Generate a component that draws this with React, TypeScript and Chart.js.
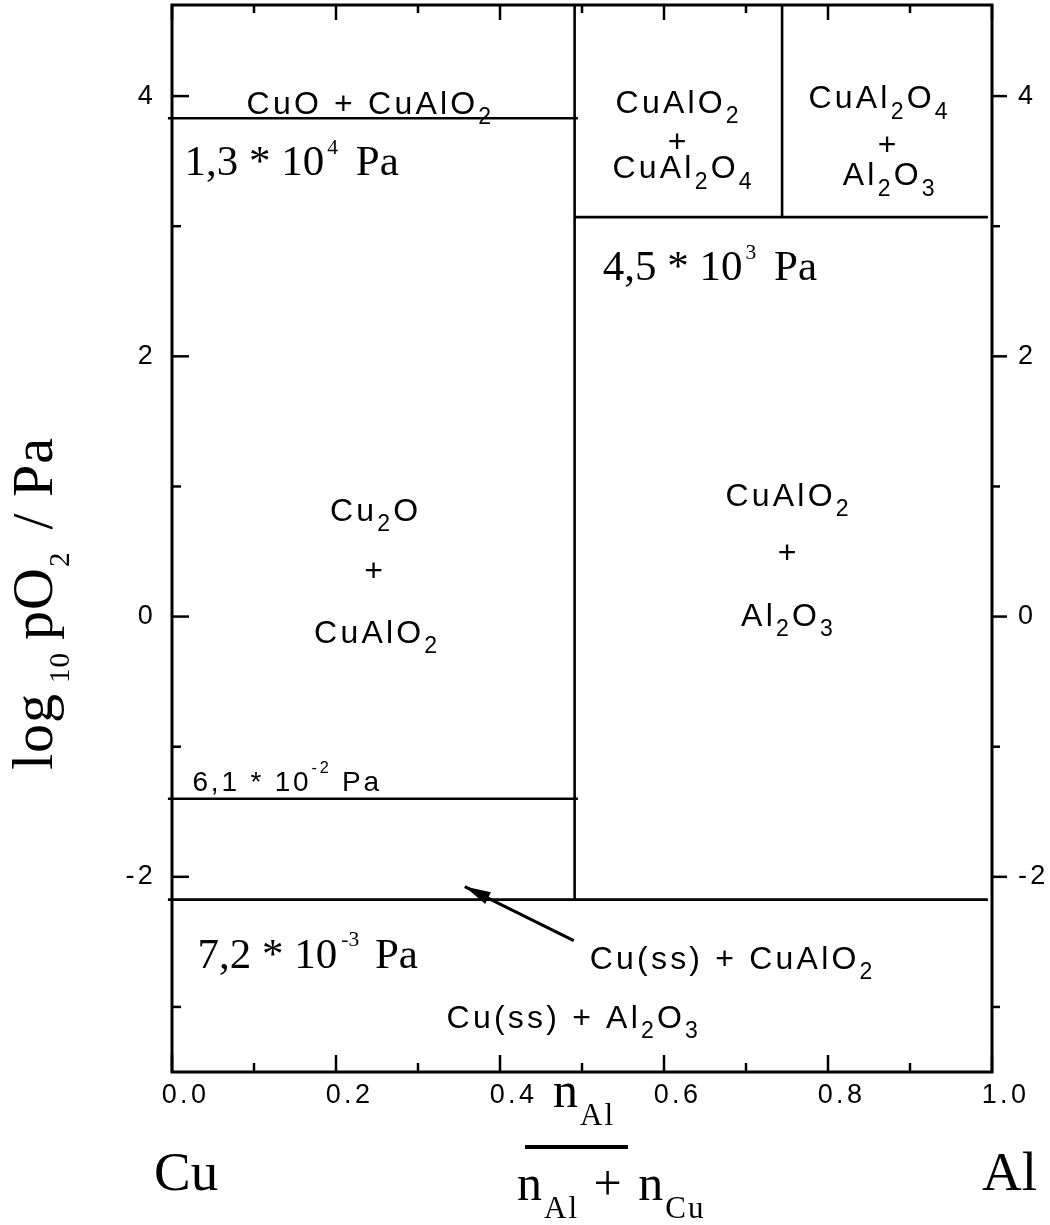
import React, { useEffect, useRef } from 'react';
import { Chart, registerables } from 'chart.js';

Chart.register(...registerables);

// ---- Axes ----
const xRange = [0, 1];
const yRange = [-3.5, 4.7];
const xMajorTicks = [0, 0.2, 0.4, 0.6, 0.8, 1.0];
const xMinorTicks = [0.1, 0.3, 0.5, 0.7, 0.9];
const yMajorTicks = [-2, 0, 2, 4];
const yMinorTicks = [-3, -1, 1, 3];

// ---- Phase boundaries: x = n_Al/(n_Al+n_Cu), y = log10 pO2 ----
const boundaryNames = ['CuO|Cu2O', 'CuAl2O4|CuAlO2', 'Cu2O|Cu', 'CuAlO2|Cu(ss)', 'Cu2O|CuAlO2', 'CuAlO2|CuAl2O4'];
const boundaryX0 = [-0.005, 0.491, -0.005, -0.005, 0.491, 0.744];
const boundaryX1 = [0.495, 0.995, 0.495, 0.995, 0.491, 0.744];
const boundaryY0 = [3.83, 3.07, -1.4, -2.175, 4.7, 4.7];
const boundaryY1 = [3.83, 3.07, -1.4, -2.175, -2.175, 3.07];

// ---- Arrow (tail -> head) ----
const arrowX = [0.49, 0.357];
const arrowY = [-2.49, -2.075];

// ---- Text annotations ----
// [text, kind (0 normal, -1 subscript, 1 superscript), extra gap before in px]
type Seg = [string, number, number?];
interface PhaseLabel { parts: Seg[]; x: number; y: number; align: 'left' | 'center'; kind: 'sans' | 'small' | 'serif'; }

const phaseLabels: PhaseLabel[] = [
  { parts: [['CuO + CuAlO', 0], ['2', -1]], x: 0.091, y: 3.866, align: 'left', kind: 'sans' },
  { parts: [['CuAlO', 0], ['2', -1]], x: 0.616, y: 3.869, align: 'center', kind: 'sans' },
  { parts: [['+', 0]], x: 0.616, y: 3.574, align: 'center', kind: 'sans' },
  { parts: [['CuAl', 0], ['2', -1], ['O', 0], ['4', -1]], x: 0.622, y: 3.367, align: 'center', kind: 'sans' },
  { parts: [['CuAl', 0], ['2', -1], ['O', 0], ['4', -1]], x: 0.861, y: 3.905, align: 'center', kind: 'sans' },
  { parts: [['+', 0]], x: 0.872, y: 3.551, align: 'center', kind: 'sans' },
  { parts: [['Al', 0], ['2', -1], ['O', 0], ['3', -1]], x: 0.874, y: 3.313, align: 'center', kind: 'sans' },
  { parts: [['1,3 * 10', 0], ['4', 1, 3], [' Pa', 0, 7]], x: 0.0153, y: 3.39, align: 'left', kind: 'serif' },
  { parts: [['4,5 * 10', 0], ['3', 1, 3], [' Pa', 0, 7]], x: 0.5253, y: 2.583, align: 'left', kind: 'serif' },
  { parts: [['Cu', 0], ['2', -1], ['O', 0]], x: 0.2465, y: 0.738, align: 'center', kind: 'sans' },
  { parts: [['+', 0]], x: 0.2459, y: 0.277, align: 'center', kind: 'sans' },
  { parts: [['CuAlO', 0], ['2', -1]], x: 0.2483, y: -0.2, align: 'center', kind: 'sans' },
  { parts: [['CuAlO', 0], ['2', -1]], x: 0.75, y: 0.853, align: 'center', kind: 'sans' },
  { parts: [['+', 0]], x: 0.75, y: 0.415, align: 'center', kind: 'sans' },
  { parts: [['Al', 0], ['2', -1], ['O', 0], ['3', -1]], x: 0.75, y: -0.069, align: 'center', kind: 'sans' },
  { parts: [['6,1 * 10', 0], ['-2', 1], [' Pa', 0]], x: 0.025, y: -1.337, align: 'left', kind: 'small' },
  { parts: [['7,2 * 10', 0], ['-3', 1, 4], [' Pa', 0, 5]], x: 0.0311, y: -2.698, align: 'left', kind: 'serif' },
  { parts: [['Cu(ss) + CuAlO', 0], ['2', -1]], x: 0.5095, y: -2.706, align: 'left', kind: 'sans' },
  { parts: [['Cu(ss) + Al', 0], ['2', -1], ['O', 0], ['3', -1]], x: 0.3349, y: -3.159, align: 'left', kind: 'sans' },
];

const yTitleParts: Seg[] = [['log', 0], ['10', -1, 10], ['pO', 0, 12], ['2', -1], ['/ Pa', 0, 22]];
const xTitleNumerator: Seg[] = [['n', 0], ['Al', -1]];
const xTitleDenominator: Seg[] = [['n', 0], ['Al', -1], [' + ', 0], ['n', 0], ['Cu', -1]];
const leftEndLabel = 'Cu';
const rightEndLabel = 'Al';

// ---- Styles ----
const SANS = '"Liberation Sans", Arial, Helvetica, sans-serif';
const SERIF = '"Liberation Serif", "Times New Roman", Times, serif';

interface TextStyle { family: string; size: number; spacing: number; subScale: number; subShift: number; supScale: number; supShift: number; }
const styles: Record<string, TextStyle> = {
  sans: { family: SANS, size: 32, spacing: 3.2, subScale: 0.72, subShift: 0.32, supScale: 0.6, supShift: 0.5 },
  small: { family: SANS, size: 28, spacing: 2.8, subScale: 0.7, subShift: 0.3, supScale: 0.58, supShift: 0.62 },
  serif: { family: SERIF, size: 43, spacing: 0, subScale: 0.6, subShift: 0.3, supScale: 0.5, supShift: 0.5 },
  title: { family: SERIF, size: 58, spacing: 1, subScale: 0.5, subShift: 0.3, supScale: 0.5, supShift: 0.5 },
  frac: { family: SERIF, size: 50, spacing: 2, subScale: 0.62, subShift: 0.36, supScale: 0.5, supShift: 0.5 },
  end: { family: SERIF, size: 55, spacing: 0, subScale: 0.6, subShift: 0.3, supScale: 0.5, supShift: 0.5 },
};
const TICK_SPACING = 3.3;

function drawRich(ctx: CanvasRenderingContext2D, segs: Seg[], x: number, y: number, st: TextStyle, align: 'left' | 'center' | 'right') {
  const parts = segs.map(([t, k, gap]) => {
    const size = k === 0 ? st.size : st.size * (k < 0 ? st.subScale : st.supScale);
    const dy = k === 0 ? 0 : k < 0 ? st.size * st.subShift : -st.size * st.supShift;
    ctx.font = `${size}px ${st.family}`;
    (ctx as any).letterSpacing = `${st.spacing}px`;
    const w = ctx.measureText(t).width;
    return { t, size, dy, w, gap: gap || 0 };
  });
  const total = parts.reduce((a, p) => a + p.w + p.gap, 0) - st.spacing;
  let cx = align === 'center' ? x - total / 2 : align === 'right' ? x - total : x;
  ctx.textAlign = 'left';
  ctx.textBaseline = 'alphabetic';
  for (const p of parts) {
    cx += p.gap;
    ctx.font = `${p.size}px ${st.family}`;
    (ctx as any).letterSpacing = `${st.spacing}px`;
    ctx.fillText(p.t, cx, y + p.dy);
    cx += p.w;
  }
}

const decorPlugin = {
  id: 'decor',
  beforeDraw(chart: any) {
    chart.ctx.letterSpacing = `${TICK_SPACING}px`;
  },
  afterDraw(chart: any) {
    const ctx: CanvasRenderingContext2D = chart.ctx;
    const { left, right, top, bottom } = chart.chartArea;
    const xs = chart.scales.x;
    const ys = chart.scales.y;
    ctx.save();
    (ctx as any).letterSpacing = '0px';
    ctx.strokeStyle = '#000';
    ctx.fillStyle = '#000';
    ctx.lineCap = 'butt';
    const seg = (x1: number, y1: number, x2: number, y2: number) => {
      ctx.beginPath(); ctx.moveTo(x1, y1); ctx.lineTo(x2, y2); ctx.stroke();
    };
    ctx.lineWidth = 2.5;
    xMajorTicks.forEach((v) => { const p = xs.getPixelForValue(v); seg(p, bottom, p, bottom - 17); seg(p, top, p, top + 15); });
    xMinorTicks.forEach((v) => { const p = xs.getPixelForValue(v); seg(p, bottom, p, bottom - 9); seg(p, top, p, top + 8); });
    yMajorTicks.forEach((v) => { const p = ys.getPixelForValue(v); seg(left, p, left + 17, p); seg(right, p, right + 15, p); });
    yMinorTicks.forEach((v) => { const p = ys.getPixelForValue(v); seg(left, p, left + 9, p); seg(right, p, right + 8, p); });
    ctx.lineWidth = 3;
    ctx.strokeRect(left, top, right - left, bottom - top);

    // arrowhead
    const hx = xs.getPixelForValue(arrowX[1]);
    const hy = ys.getPixelForValue(arrowY[1]);
    const tx = xs.getPixelForValue(arrowX[0]);
    const ty = ys.getPixelForValue(arrowY[0]);
    const ang = Math.atan2(hy - ty, hx - tx);
    const L = 26, W = 6.5;
    const bx = hx - L * Math.cos(ang), by = hy - L * Math.sin(ang);
    ctx.beginPath();
    ctx.moveTo(hx, hy);
    ctx.lineTo(bx + W * Math.sin(ang), by - W * Math.cos(ang));
    ctx.lineTo(bx - W * Math.sin(ang), by + W * Math.cos(ang));
    ctx.closePath();
    ctx.fill();

    // phase labels
    phaseLabels.forEach((lb) => {
      drawRich(ctx, lb.parts, xs.getPixelForValue(lb.x), ys.getPixelForValue(lb.y), styles[lb.kind], lb.align);
    });

    // end labels
    drawRich(ctx, [[leftEndLabel, 0]], left - 18, bottom + 118, styles.end, 'left');
    drawRich(ctx, [[rightEndLabel, 0]], right + 45, bottom + 118, styles.end, 'right');

    // x title (fraction)
    const xm = xs.getPixelForValue(0.5);
    drawRich(ctx, xTitleNumerator, xm - 29, bottom + 35, styles.frac, 'left');
    ctx.lineWidth = 4;
    seg(xm - 57, bottom + 75, xm + 46, bottom + 75);
    drawRich(ctx, xTitleDenominator, xm - 65, bottom + 128, styles.frac, 'left');

    // y title (rotated)
    ctx.save();
    ctx.translate(52, 604);
    ctx.rotate(-Math.PI / 2);
    drawRich(ctx, yTitleParts, 0, 0, styles.title, 'center');
    ctx.restore();

    ctx.restore();
    (ctx as any).letterSpacing = '0px';
  },
};

export default function App() {
  const ref = useRef<HTMLCanvasElement | null>(null);
  useEffect(() => {
    if (!ref.current) return;
    const lineSets = boundaryNames.map((name, i) => ({
      label: name,
      data: [{ x: boundaryX0[i], y: boundaryY0[i] }, { x: boundaryX1[i], y: boundaryY1[i] }],
      showLine: true,
      borderColor: '#000',
      borderWidth: 2.6,
      pointRadius: 0,
      clip: false as any,
    }));
    const arrowSet = {
      label: 'arrow',
      data: [{ x: arrowX[0], y: arrowY[0] }, { x: arrowX[1], y: arrowY[1] }],
      showLine: true,
      borderColor: '#000',
      borderWidth: 3,
      pointRadius: 0,
      clip: false as any,
    };
    const tickFont = { family: SANS, size: 27 };
    const fixV = (w: number) => (s: any) => { s.width = w; s.paddingTop = 0; s.paddingBottom = 0; };
    const chart = new Chart(ref.current, {
      type: 'scatter',
      data: { datasets: [...lineSets, arrowSet] as any },
      options: {
        responsive: false,
        animation: false,
        devicePixelRatio: 1,
        layout: { padding: { top: 5, left: 0, right: 0, bottom: 0 } },
        plugins: { legend: { display: false }, tooltip: { enabled: false } },
        scales: {
          x: {
            type: 'linear', position: 'bottom', min: xRange[0], max: xRange[1],
            grid: { display: false, drawTicks: false, tickLength: 0 },
            border: { display: false },
            afterBuildTicks: (axis: any) => { axis.ticks = xMajorTicks.map((v) => ({ value: v })); },
            afterFit: (s: any) => { s.height = 153; s.paddingLeft = 0; s.paddingRight = 0; },
            ticks: { font: tickFont, color: '#000', padding: 7, labelOffset: 13.5, maxRotation: 0, autoSkip: false, callback: (v: any) => Number(v).toFixed(1) },
          },
          y: {
            type: 'linear', position: 'left', min: yRange[0], max: yRange[1],
            grid: { display: false, drawTicks: false, tickLength: 0 },
            border: { display: false },
            afterBuildTicks: (axis: any) => { axis.ticks = yMajorTicks.map((v) => ({ value: v })); },
            afterFit: fixV(172),
            ticks: { font: tickFont, color: '#000', padding: 16, callback: (v: any) => String(v) },
          },
          y2: {
            type: 'linear', position: 'right', min: yRange[0], max: yRange[1],
            grid: { display: false, drawTicks: false, tickLength: 0 },
            border: { display: false },
            afterBuildTicks: (axis: any) => { axis.ticks = yMajorTicks.map((v) => ({ value: v })); },
            afterFit: fixV(58),
            ticks: { font: tickFont, color: '#000', padding: 26, callback: (v: any) => String(v) },
          },
        },
      } as any,
      plugins: [decorPlugin],
    });
    return () => chart.destroy();
  }, []);
  return (
    <div style={{ position: 'absolute', left: 0, top: 0, width: 1050, height: 1225, background: '#fff' }}>
      <canvas ref={ref} width={1050} height={1225} style={{ display: 'block', width: 1050, height: 1225 }} />
    </div>
  );
}
